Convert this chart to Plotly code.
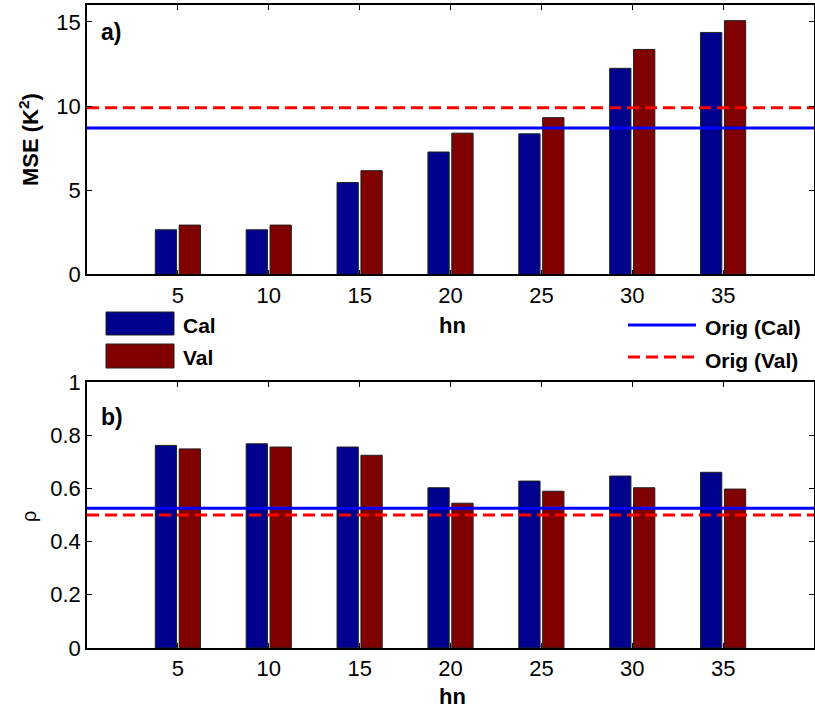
import plotly.graph_objects as go

# Hidden-node counts tested
hn = [5, 10, 15, 20, 25, 30, 35]

# Mean squared error (K^2) for calibration and validation
mse_cal = [2.65, 2.65, 5.46, 7.27, 8.35, 12.24, 14.37]
mse_val = [2.93, 2.93, 6.16, 8.39, 9.31, 13.36, 15.07]

# Correlation coefficient rho
rho_cal = [0.761, 0.767, 0.755, 0.602, 0.627, 0.646, 0.660]
rho_val = [0.748, 0.755, 0.724, 0.544, 0.589, 0.602, 0.597]

# Reference values of the original model
orig_mse_cal = 8.7
orig_mse_val = 9.9
orig_rho_cal = 0.525
orig_rho_val = 0.50

x_span = [0, 40]

CAL_COLOR = "#00008F"
VAL_COLOR = "#800000"
LINE_CAL = "#0000FF"
LINE_VAL = "#FF0000"
FONT = "Liberation Sans, Arial, sans-serif"

fig = go.Figure()

bar_line = dict(color="#202020", width=1)

# Panel a) MSE
fig.add_trace(go.Bar(x=hn, y=mse_cal, marker=dict(color=CAL_COLOR, line=bar_line),
                     name="Cal", showlegend=False, xaxis="x", yaxis="y"))
fig.add_trace(go.Bar(x=hn, y=mse_val, marker=dict(color=VAL_COLOR, line=bar_line),
                     name="Val", showlegend=False, xaxis="x", yaxis="y"))
fig.add_trace(go.Scatter(x=x_span, y=[orig_mse_val] * 2, mode="lines",
                         line=dict(color=LINE_VAL, width=3, dash="12px,6px"),
                         showlegend=False, xaxis="x", yaxis="y"))
fig.add_trace(go.Scatter(x=x_span, y=[orig_mse_cal] * 2, mode="lines",
                         line=dict(color=LINE_CAL, width=3),
                         showlegend=False, xaxis="x", yaxis="y"))

# Panel b) rho
fig.add_trace(go.Bar(x=hn, y=rho_cal, marker=dict(color=CAL_COLOR, line=bar_line),
                     name="Cal", showlegend=False, xaxis="x2", yaxis="y2"))
fig.add_trace(go.Bar(x=hn, y=rho_val, marker=dict(color=VAL_COLOR, line=bar_line),
                     name="Val", showlegend=False, xaxis="x2", yaxis="y2"))
fig.add_trace(go.Scatter(x=x_span, y=[orig_rho_val] * 2, mode="lines",
                         line=dict(color=LINE_VAL, width=3, dash="12px,6px"),
                         showlegend=False, xaxis="x2", yaxis="y2"))
fig.add_trace(go.Scatter(x=x_span, y=[orig_rho_cal] * 2, mode="lines",
                         line=dict(color=LINE_CAL, width=3),
                         showlegend=False, xaxis="x2", yaxis="y2"))

axis_common = dict(
    showline=True, linecolor="black", linewidth=1.5, mirror="allticks",
    ticks="inside", ticklen=5, tickwidth=1, tickcolor="black",
    showgrid=False, zeroline=False, automargin=False,
    tickfont=dict(family=FONT, size=22, color="black"),
)

fig.update_layout(
    template="none",
    width=815, height=710,
    margin=dict(l=87, r=1, t=5, b=62, autoexpand=False),
    paper_bgcolor="white", plot_bgcolor="white",
    barmode="group", bargap=0.474, bargroupgap=0.11,
    font=dict(family=FONT, color="black"),
    xaxis=dict(axis_common, domain=[0, 1], range=x_span, tickvals=hn,
               anchor="y"),
    yaxis=dict(axis_common, domain=[0.581, 1], range=[0, 16],
               tickvals=[0, 5, 10, 15], anchor="x"),
    xaxis2=dict(axis_common, domain=[0, 1], range=x_span, tickvals=hn,
                anchor="y2"),
    yaxis2=dict(axis_common, domain=[0, 0.414], range=[0, 1],
                tickvals=[0, 0.2, 0.4, 0.6, 0.8, 1], ticktext=["0", "0.2", "0.4", "0.6", "0.8", "1"],
                anchor="x2"),
)

W, L, R = 815, 87, 1
H, T, B = 710, 5, 62


def px(xp):
    return (xp - L) / (W - L - R)


def py(yp):
    return (H - B - yp) / (H - T - B)


annotations = [
    dict(text="<b>a)</b>", x=px(99), y=py(32), xanchor="left", yanchor="middle",
         font=dict(size=23)),
    dict(text="<b>b)</b>", x=px(99), y=py(417), xanchor="left", yanchor="middle",
         font=dict(size=23)),
    dict(text="<b>hn</b>", x=px(452), y=py(326), xanchor="center", yanchor="middle",
         font=dict(size=22)),
    dict(text="<b>hn</b>", x=px(452), y=py(696), xanchor="center", yanchor="middle",
         font=dict(size=22)),
    dict(text="<b>MSE (K<sup>2</sup>)</b>", x=px(29), y=py(140), textangle=-90,
         xanchor="center", yanchor="middle", font=dict(size=22)),
    dict(text="ρ", x=px(29), y=py(517), textangle=-90,
         xanchor="center", yanchor="middle", font=dict(size=20)),
    dict(text="<b>Cal</b>", x=px(181), y=py(325), xanchor="left", yanchor="middle",
         font=dict(size=21)),
    dict(text="<b>Val</b>", x=px(181), y=py(357), xanchor="left", yanchor="middle",
         font=dict(size=21)),
    dict(text="<b>Orig (Cal)</b>", x=px(703), y=py(328), xanchor="left", yanchor="middle",
         font=dict(size=21)),
    dict(text="<b>Orig (Val)</b>", x=px(703), y=py(360), xanchor="left", yanchor="middle",
         font=dict(size=21)),
]
for a in annotations:
    a.update(xref="paper", yref="paper", showarrow=False)
    a["font"].update(family=FONT, color="black")
fig.update_layout(annotations=annotations)

# Legend swatches and line samples
shapes = [
    dict(type="rect", x0=px(106), x1=px(174), y0=py(335), y1=py(312),
         fillcolor=CAL_COLOR, line=dict(color="#202020", width=1)),
    dict(type="rect", x0=px(106), x1=px(174), y0=py(368), y1=py(344),
         fillcolor=VAL_COLOR, line=dict(color="#202020", width=1)),
    dict(type="line", x0=px(628), x1=px(696), y0=py(325), y1=py(325),
         line=dict(color=LINE_CAL, width=3)),
    dict(type="line", x0=px(628), x1=px(696), y0=py(357), y1=py(357),
         line=dict(color=LINE_VAL, width=3, dash="12px,6px")),
]
for s in shapes:
    s.update(xref="paper", yref="paper")
fig.update_layout(shapes=shapes)

fig.write_html("out.html")
